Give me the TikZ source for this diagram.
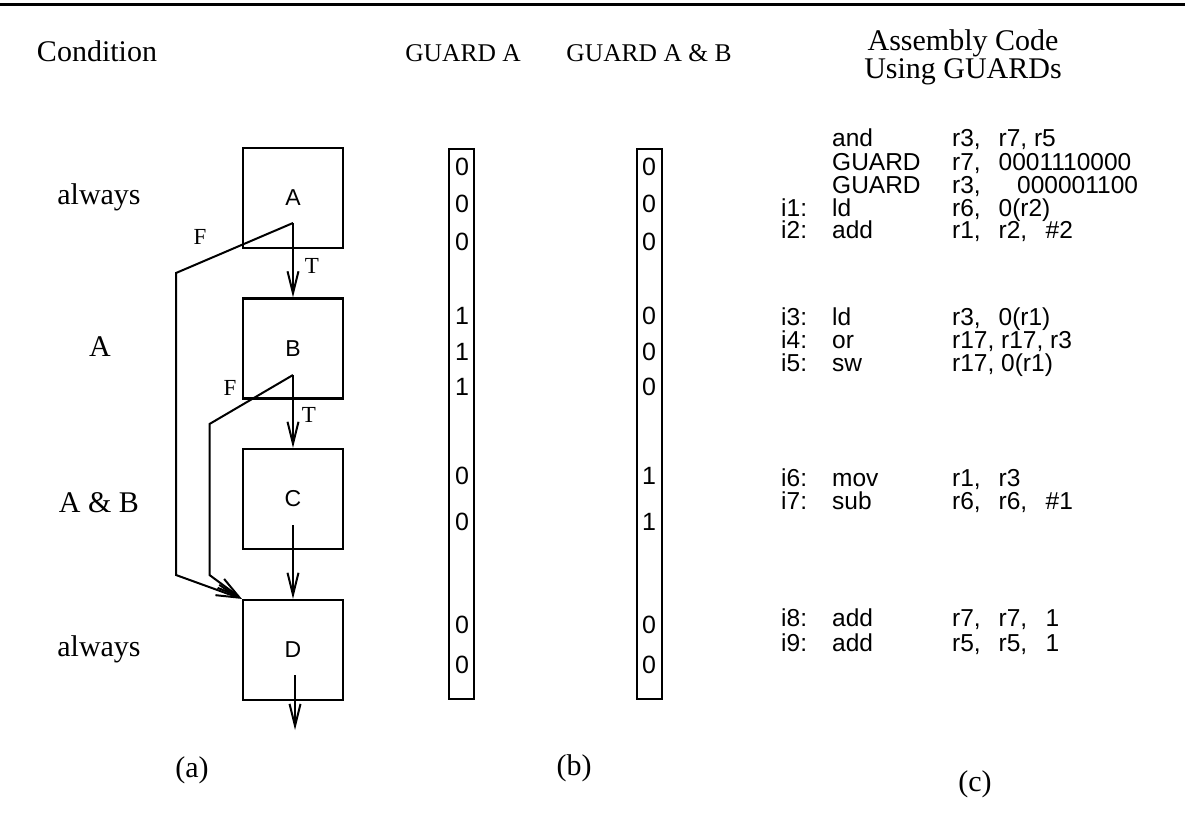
\documentclass[tikz,border=0pt]{standalone}
\usepackage{fontspec}
\setmainfont{Liberation Serif}
\setsansfont{Liberation Sans}
\usetikzlibrary{arrows.meta,calc}
\newcommand\cA[1]{\makebox[51pt][l]{#1}}
\newcommand\cB[1]{\makebox[120pt][l]{#1}}
\newcommand\cC[1]{\makebox[46.5pt][l]{#1}}
\newcommand\cD[1]{\makebox[47pt][l]{#1}}
\begin{document}
\begin{tikzpicture}[x=1pt,y=-1pt,
  serif/.style={font=\rmfamily\fontsize{30}{30}\selectfont, inner sep=0pt},
  head/.style={font=\rmfamily\fontsize{25.5}{25.5}\selectfont, inner sep=0pt},
  small/.style={font=\rmfamily\fontsize{23}{23}\selectfont, inner sep=0pt},
  block/.style={draw, line width=2.2pt, minimum width=100pt, minimum height=100pt, inner sep=0pt, font=\sffamily\fontsize{23}{23}\selectfont},
  bar/.style={draw, line width=2pt, minimum width=25pt, minimum height=550pt, inner sep=0pt},
  bit/.style={font=\sffamily\fontsize{25}{25}\selectfont, inner sep=0pt},
  code/.style={font=\sffamily\fontsize{24.5}{24.5}\selectfont, inner sep=0pt, anchor=base west},
  wire/.style={line width=2pt},
  arr/.style={line width=2pt, -{Straight Barb[length=22pt,width=11pt,line width=2pt]}}
]
\useasboundingbox (0,0) rectangle (1185,814);
\draw[line width=3pt] (0,4.5) -- (1185,4.5) coordinate (topline);

% headers
\node[serif, anchor=base] (hcond) at (97,61) {Condition};
\node[head, anchor=base] (hga) at (463,61) {GUARD A};
\node[head, anchor=base] (hgab) at (649,61) {GUARD A \& B};
\node[serif, anchor=base] (hasm1) at (963,50) {Assembly Code};
\node[serif, anchor=base] (hasm2) at (963,78) {Using GUARDs};

% condition labels
\node[serif, anchor=base] (c1) at (99,204) {always};
\node[serif, anchor=base] (c2) at (100,356) {A};
\node[serif, anchor=base] (c3) at (99,512) {A \& B};
\node[serif, anchor=base] (c4) at (99,656) {always};

% flow graph
\node[block] (A) at (293,198) {A};
\node[block] (B) at (293,348.5) {B};
\node[block] (C) at (293,499) {C};
\node[block] (D) at (293,650) {D};
\coordinate (Aout) at (293,223);
\coordinate (Bout) at (293,375);
\coordinate (Cout) at (293,525);
\coordinate (Dout) at (295,675);
\coordinate (Dend) at (295,730);
\coordinate (fa1) at (176,273);
\coordinate (fa2) at (176,575);
\coordinate (fb1) at (209.5,424);
\coordinate (fb2) at (209.5,575);
\draw[arr] (Aout) -- (A.center |- B.north);
\draw[arr] (Bout) -- (B.center |- C.north);
\draw[arr] (Cout) -- (C.center |- D.north);
\draw[arr] (Dout) -- (Dend);
\draw[arr] (Aout) -- (fa1) -- (fa2) -- (D.north west);
\draw[arr] (Bout) -- (fb1) -- (fb2) -- (D.north west);
\node[small] (fA) at (200,237) {F};
\node[small] (tA) at (312,266) {T};
\node[small] (fB) at (230,388) {F};
\node[small] (tB) at (309,415) {T};

% guard columns
\node[bar, anchor=north] (g1) at (461.5,148) {};
\node[bar, anchor=north] (g2) at (649,148) {};
\foreach \y/\a/\b in {167/0/0,204/0/0,242/0/0,316/1/0,352/1/0,387/1/0,476/0/1,522/0/1,625/0/0,665/0/0}{
  \node[bit] at (462,\y) {\a};
  \node[bit] at (649,\y) {\b};
}

% assembly code
\node[code] (l0) at (781,146.5) {\cA{}\cB{and}\cC{r3,}r7, r5};
\node[code] (l1) at (781,170) {\cA{}\cB{GUARD}\cC{r7,}0001110000};
\node[code] (l2) at (781,193.3) {\cA{}\cB{GUARD}\makebox[65pt][l]{r3,}000001100};
\node[code] (l3) at (781,216.5) {\cA{i1:}\cB{ld}\cC{r6,}0(r2)};
\node[code] (l4) at (781,238.5) {\cA{i2:}\cB{add}\cC{r1,}\cD{r2,}\#2};
\node[code] (l5) at (781,325) {\cA{i3:}\cB{ld}\cC{r3,}0(r1)};
\node[code] (l6) at (781,348.3) {\cA{i4:}\cB{or}r17, r17, r3};
\node[code] (l7) at (781,371.5) {\cA{i5:}\cB{sw}r17, 0(r1)};
\node[code] (l8) at (781,486.5) {\cA{i6:}\cB{mov}\cC{r1,}r3};
\node[code] (l9) at (781,509.5) {\cA{i7:}\cB{sub}\cC{r6,}\cD{r6,}\#1};
\node[code] (l10) at (781,626.5) {\cA{i8:}\cB{add}\cC{r7,}\cD{r7,}1};
\node[code] (l11) at (781,651) {\cA{i9:}\cB{add}\cC{r5,}\cD{r5,}1};

% sub-figure labels
\node[serif] (la) at (192,770) {(a)};
\node[serif] (lb) at (574,768) {(b)};
\node[serif] (lc) at (975,784) {(c)};
\end{tikzpicture}
\end{document}
